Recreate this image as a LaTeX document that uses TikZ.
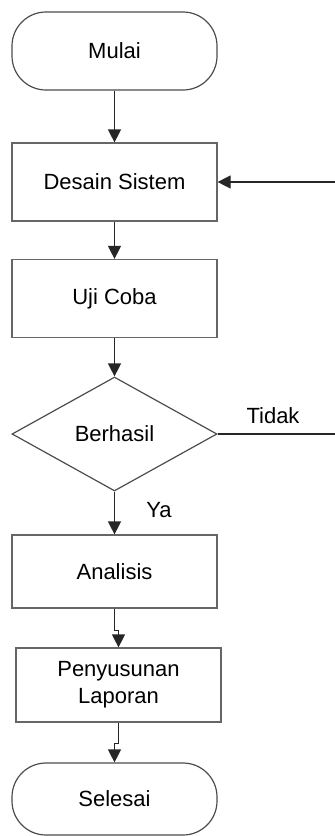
\documentclass[tikz,border=0pt]{standalone}
\usepackage{fontspec}
\setmainfont{Liberation Sans}
\usetikzlibrary{shapes.geometric, arrows.meta, positioning, calc}

\begin{document}
\begin{tikzpicture}[x=0.5pt,y=-0.5pt,
    >={Triangle[width=6.5pt,length=6.5pt]},
    line width=0.6pt,
    every node/.style={font=\fontsize{11}{13.5}\selectfont},
    proses/.style={draw=black!60, minimum width=102.5pt, minimum height=39pt, inner sep=2pt, align=center},
    terminal/.style={draw=black!70, rounded corners=17pt, minimum width=102.5pt, minimum height=39pt},
    keputusan/.style={draw=black!70, diamond, minimum width=102.5pt, minimum height=57pt, inner sep=0pt},
    panah/.style={->, draw=black!85}
]
    \useasboundingbox (0,0) rectangle (334,836);

    % langkah-langkah
    \node[terminal] (mulai) at (114.5,51) {Mulai};
    \node[proses] (desain) at (114.5,182) {Desain Sistem};
    \node[proses] (uji) at (114.5,298.5) {Uji Coba};
    \node[keputusan] (berhasil) at (114.5,434) {Berhasil};
    \node[proses, minimum height=36.5pt] (analisis) at (114.5,571.5) {Analisis};
    \node[proses, minimum height=37pt] (laporan) at (118.5,685) {Penyusunan\\Laporan};
    \node[terminal, minimum height=36pt] (selesai) at (114.5,799) {Selesai};

    % label cabang
    \node (tidak) at (273,416) {Tidak};
    \node (ya) at (159,510) {Ya};

    % panah
    \draw[panah] (mulai) -- (desain);
    \draw[panah] (desain) -- (uji);
    \draw[panah] (uji) -- (berhasil);
    \draw[panah] (berhasil) -- (analisis);
    \draw[panah] (analisis.south) -- ++(0,22) -| (laporan.north);
    \draw[panah] (laporan.south) -- ++(0,21) -| (selesai.north);

    % kembali ke desain
    \coordinate (pojok) at (345,434);
    \draw[panah] (berhasil.east) -- (pojok) |- (desain.east);

\end{tikzpicture}
\end{document}
